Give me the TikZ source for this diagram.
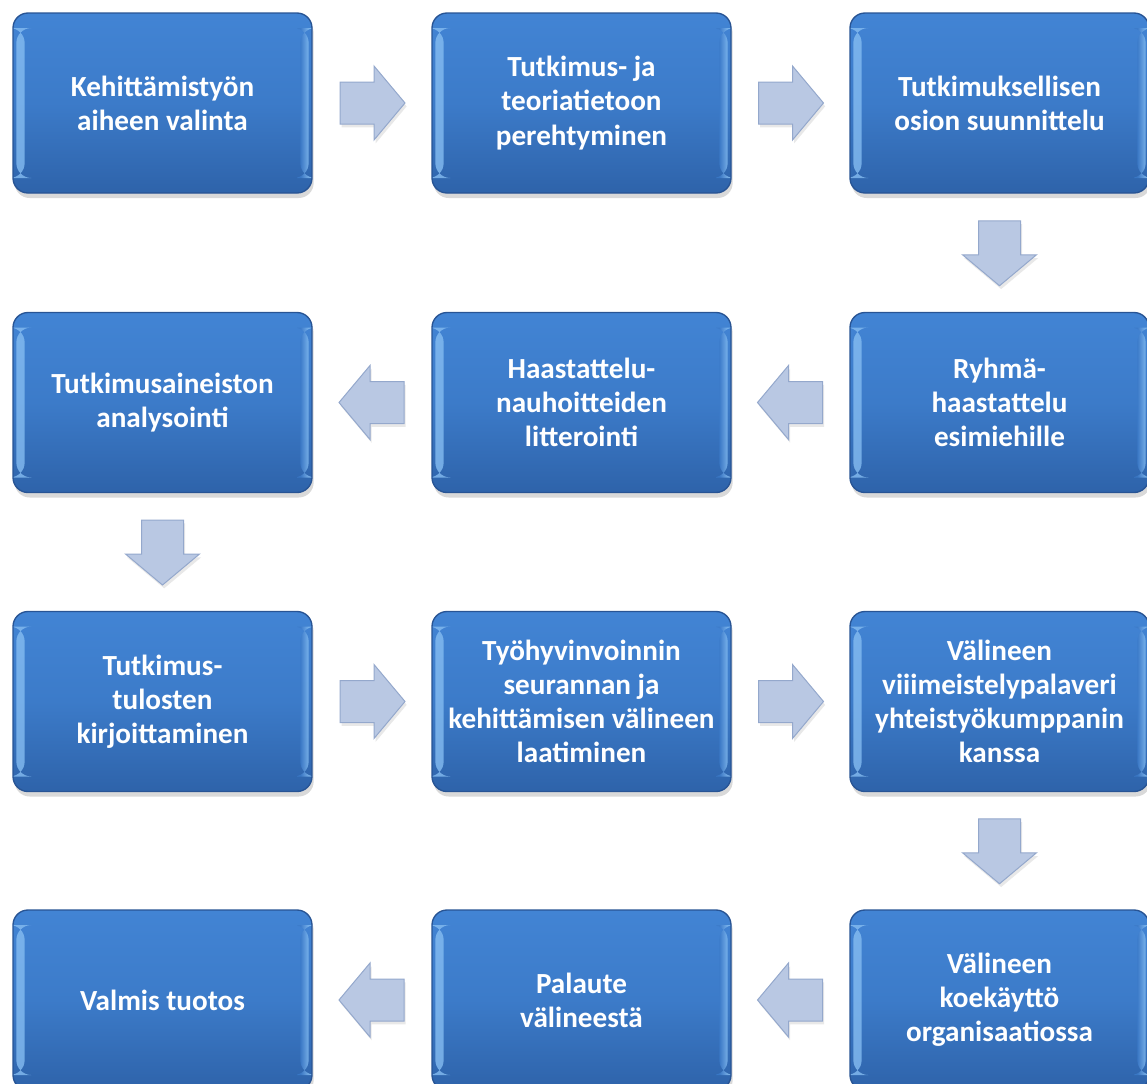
\documentclass[tikz,border=0pt]{standalone}
\usepackage{fontspec}
\setmainfont{Carlito}
\usepackage{tikz}
\usetikzlibrary{calc,shadows}
\definecolor{boxtop}{RGB}{66,132,212}
\definecolor{boxmid}{RGB}{60,123,201}
\definecolor{boxbot}{RGB}{46,99,170}
\definecolor{boxedge}{RGB}{40,84,148}
\definecolor{boxhi}{RGB}{135,190,242}
\definecolor{arrfill}{RGB}{185,200,227}
\definecolor{arredge}{RGB}{148,168,204}

\begin{document}
\begin{tikzpicture}[x=0.6pt,y=-0.6pt,
  stepbox/.style={draw=boxedge,line width=0.8pt,rounded corners=9pt,
    top color=boxtop,bottom color=boxbot,middle color=boxmid,
    minimum width=179.4pt,minimum height=108pt,inner sep=0pt,
    align=center,text=white,
    font=\bfseries\fontsize{17.5}{20.5}\selectfont,
    drop shadow={shadow xshift=1pt,shadow yshift=-3pt,opacity=0.25,fill=black!60},
    path picture={
      \shade[left color=boxhi,right color=boxmid,opacity=0.8]
        ([xshift=2pt,yshift=-9pt]path picture bounding box.north west) rectangle
        ([xshift=7pt,yshift=9pt]path picture bounding box.south west);
      \shade[right color=boxhi,left color=boxmid,opacity=0.8]
        ([xshift=-7pt,yshift=-9pt]path picture bounding box.north east) rectangle
        ([xshift=-2pt,yshift=9pt]path picture bounding box.south east);
    }},
  arrowbox/.style={fill=arrfill,draw=arredge,line width=0.6pt,line join=miter,
    drop shadow={shadow xshift=1pt,shadow yshift=-2pt,opacity=0.15,fill=black!60}},
  blockarrow/.pic={
    \draw[arrowbox] (-32,-21) -- (2,-21) -- (2,-37) -- (33,0) -- (2,37)
      -- (2,21) -- (-32,21) -- cycle;
  }]
  \useasboundingbox (0,0) rectangle (1147,1084);

  %% Row 1: left to right
  \node[stepbox] (aihe) at (162.5,103) {Kehittämistyön\\aiheen valinta};
  \node[stepbox] (teoria) at (581.5,103) {Tutkimus- ja\\teoriatietoon\\perehtyminen};
  \node[stepbox] (suunnittelu) at (999.5,103) {Tutkimuksellisen\\osion suunnittelu};

  %% Row 2: right to left
  \node[stepbox] (ryhma) at (999.5,402.5) {Ryhmä-\\haastattelu\\esimiehille};
  \node[stepbox] (litterointi) at (581.5,402.5) {Haastattelu-\\nauhoitteiden\\litterointi};
  \node[stepbox] (analysointi) at (162.5,402.5) {Tutkimusaineiston\\analysointi};

  %% Row 3: left to right
  \node[stepbox] (kirjoitus) at (162.5,701.5) {Tutkimus-\\tulosten\\kirjoittaminen};
  \node[stepbox] (valine) at (581.5,701.5) {Työhyvinvoinnin\\seurannan ja\\kehittämisen välineen\\laatiminen};
  \node[stepbox] (palaveri) at (999.5,701.5) {Välineen\\viiimeistelypalaveri\\yhteistyökumppanin\\kanssa};

  %% Row 4: right to left
  \node[stepbox] (koekaytto) at (999.5,1000) {Välineen\\koekäyttö\\organisaatiossa};
  \node[stepbox] (palaute) at (581.5,1000) {Palaute\\välineestä};
  \node[stepbox] (valmis) at (162.5,1000) {Valmis tuotos};

  %% Block arrows between the steps
  \pic at ($(aihe.east)!0.5!(teoria.west)$) {blockarrow};
  \pic at ($(teoria.east)!0.5!(suunnittelu.west)$) {blockarrow};
  \pic[rotate=-90] at ($(suunnittelu.south)!0.5!(ryhma.north)$) {blockarrow};
  \pic[rotate=180] at ($(ryhma.west)!0.5!(litterointi.east)$) {blockarrow};
  \pic[rotate=180] at ($(litterointi.west)!0.5!(analysointi.east)$) {blockarrow};
  \pic[rotate=-90] at ($(analysointi.south)!0.5!(kirjoitus.north)$) {blockarrow};
  \pic at ($(kirjoitus.east)!0.5!(valine.west)$) {blockarrow};
  \pic at ($(valine.east)!0.5!(palaveri.west)$) {blockarrow};
  \pic[rotate=-90] at ($(palaveri.south)!0.5!(koekaytto.north)$) {blockarrow};
  \pic[rotate=180] at ($(koekaytto.west)!0.5!(palaute.east)$) {blockarrow};
  \pic[rotate=180] at ($(palaute.west)!0.5!(valmis.east)$) {blockarrow};
\end{tikzpicture}
\end{document}
